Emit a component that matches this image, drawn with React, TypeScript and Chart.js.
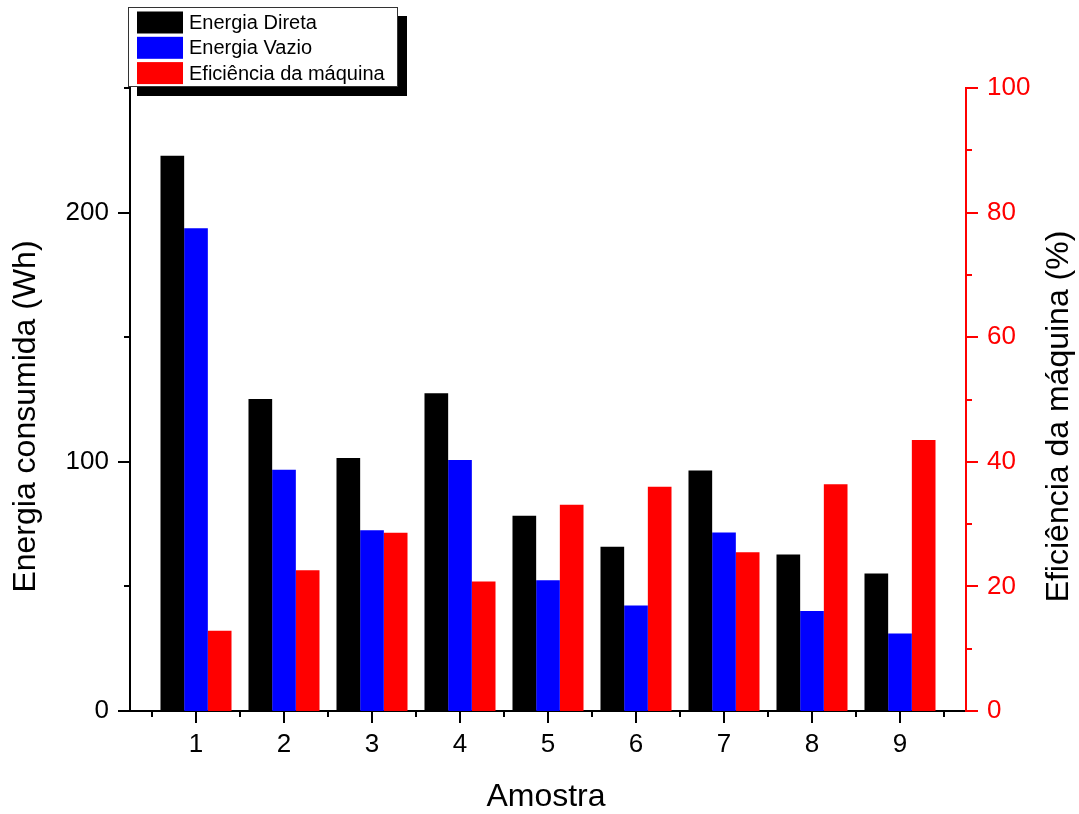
import React, { useEffect, useRef } from "react";
import { Chart, registerables } from "chart.js";

Chart.register(...registerables);

const categories = ["1", "2", "3", "4", "5", "6", "7", "8", "9"];
const energiaDireta = [222.8, 125.2, 101.5, 127.5, 78.4, 65.9, 96.5, 62.8, 55.2];
const energiaVazio = [193.7, 96.8, 72.5, 100.7, 52.5, 42.3, 71.6, 40.1, 31.1];
const eficiencia = [12.9, 22.6, 28.6, 20.8, 33.1, 36.0, 25.5, 36.4, 43.5];

const leftTicks = [0, 100, 200];
const leftMinor = [50, 150, 250];
const rightTicks = [0, 20, 40, 60, 80, 100];
const rightMinor = [10, 30, 50, 70, 90];

const seriesNames = ["Energia Direta", "Energia Vazio", "Eficiência da máquina"];
const seriesColors = ["#000000", "#0000ff", "#ff0000"];

const xTitle = "Amostra";
const yTitle = "Energia consumida (Wh)";
const y2Title = "Eficiência da máquina (%)";

const FONT = "'Liberation Sans', Arial, sans-serif";

const originPlugin = {
  id: "originDecor",
  afterDraw(chart: any) {
    const { ctx, chartArea, scales } = chart;
    const x = scales.x, y = scales.y, y2 = scales.y2;
    ctx.save();
    ctx.lineWidth = 2;
    const line = (x1: number, y1: number, x2: number, y2p: number) => {
      ctx.beginPath();
      ctx.moveTo(x1, y1);
      ctx.lineTo(x2, y2p);
      ctx.stroke();
    };
    const MAJ = 12, MIN = 6;
    // x ticks
    ctx.strokeStyle = "#000";
    const xb = chartArea.bottom;
    categories.forEach((_, i) => {
      const px = Math.round(x.getPixelForValue(i + 1));
      line(px, xb, px, xb + MAJ);
    });
    for (let i = 0; i <= categories.length; i++) {
      const px = Math.round(x.getPixelForValue(i + 0.5));
      line(px, xb, px, xb + MIN);
    }
    // left ticks
    const yl = chartArea.left;
    leftTicks.forEach((v) => {
      const py = Math.round(y.getPixelForValue(v));
      line(yl, py, yl - MAJ, py);
    });
    leftMinor.forEach((v) => {
      const py = Math.round(y.getPixelForValue(v));
      line(yl, py, yl - MIN, py);
    });
    // right ticks
    ctx.strokeStyle = "#ff0000";
    const yr = chartArea.right;
    rightTicks.forEach((v) => {
      const py = Math.round(y2.getPixelForValue(v));
      line(yr, py, yr + MAJ, py);
    });
    rightMinor.forEach((v) => {
      const py = Math.round(y2.getPixelForValue(v));
      line(yr, py, yr + MIN, py);
    });

    // titles
    const midY = (chartArea.top + chartArea.bottom) / 2 + 17;
    ctx.fillStyle = "#000";
    ctx.font = `32px ${FONT}`;
    ctx.textAlign = "center";
    ctx.textBaseline = "alphabetic";
    ctx.fillText(xTitle, (chartArea.left + chartArea.right) / 2 - 2, 806);
    ctx.save();
    ctx.translate(35, midY);
    ctx.rotate(-Math.PI / 2);
    ctx.fillText(yTitle, 0, 0);
    ctx.restore();
    ctx.save();
    ctx.translate(1068, midY);
    ctx.rotate(-Math.PI / 2);
    ctx.fillText(y2Title, 0, 0);
    ctx.restore();

    // legend
    const L = chartArea.left - 2, T = 7, W = 270, H = 80, sh = 9;
    ctx.fillStyle = "#000";
    ctx.fillRect(L + sh, T + sh, W, H);
    ctx.fillStyle = "#fff";
    ctx.fillRect(L, T, W, H);
    ctx.strokeStyle = "#333";
    ctx.lineWidth = 1;
    ctx.strokeRect(L + 0.5, T + 0.5, W - 1, H - 1);
    ctx.font = `20px ${FONT}`;
    ctx.textAlign = "left";
    ctx.textBaseline = "middle";
    chart.data.datasets.forEach((ds: any, i: number) => {
      const cy = T + 15.5 + i * 25.3;
      ctx.fillStyle = ds.backgroundColor;
      ctx.fillRect(L + 9, cy - 11, 46, 22);
      ctx.fillStyle = "#000";
      ctx.fillText(ds.label, L + 61, cy + 1);
    });
    ctx.restore();
  },
};

export default function App() {
  const ref = useRef<HTMLCanvasElement>(null);
  useEffect(() => {
    document.body.style.margin = "0";
    const canvas = ref.current!;
    const toXY = (arr: number[]) => arr.map((v, i) => ({ x: i + 1, y: v }));
    const chart = new Chart(canvas, {
      type: "bar",
      data: {
        datasets: [
          { label: seriesNames[0], data: toXY(energiaDireta), backgroundColor: seriesColors[0], yAxisID: "y" },
          { label: seriesNames[1], data: toXY(energiaVazio), backgroundColor: seriesColors[1], yAxisID: "y" },
          { label: seriesNames[2], data: toXY(eficiencia), backgroundColor: seriesColors[2], yAxisID: "y2" },
        ],
      },
      options: {
        animation: false,
        responsive: false,
        devicePixelRatio: 1,
        layout: { padding: { left: 0, right: 0, top: 88, bottom: 0 } },
        datasets: { bar: { categoryPercentage: 0.807, barPercentage: 1, borderWidth: 0 } },
        plugins: { legend: { display: false }, tooltip: { enabled: false }, title: { display: false } },
        scales: {
          x: {
            type: "linear",
            min: 0.25,
            max: 9.75,
            offset: false,
            grid: { display: false, drawTicks: false, offset: false },
            border: { display: true, color: "#000", width: 2 },
            afterBuildTicks: (s: any) => {
              s.ticks = categories.map((_, i) => ({ value: i + 1 }));
            },
            afterFit: (s: any) => {
              s.height = 103;
            },
            ticks: {
              padding: 18,
              color: "#000",
              font: { family: FONT, size: 26 },
              callback: (_v: any, i: number) => categories[i],
            },
          },
          y: {
            type: "linear",
            position: "left",
            min: 0,
            max: 250,
            grid: { display: false, drawTicks: false },
            border: { display: true, color: "#000", width: 2 },
            afterBuildTicks: (s: any) => {
              s.ticks = leftTicks.map((v) => ({ value: v }));
            },
            afterFit: (s: any) => {
              s.width = 130;
            },
            ticks: { padding: 21, color: "#000", font: { family: FONT, size: 26 } },
          },
          y2: {
            type: "linear",
            position: "right",
            min: 0,
            max: 100,
            grid: { display: false, drawTicks: false },
            border: { display: true, color: "#ff0000", width: 2 },
            afterBuildTicks: (s: any) => {
              s.ticks = rightTicks.map((v) => ({ value: v }));
            },
            afterFit: (s: any) => {
              s.width = 113;
            },
            ticks: { padding: 21, color: "#ff0000", font: { family: FONT, size: 26 } },
          },
        },
      },
      plugins: [originPlugin],
    } as any);
    return () => chart.destroy();
  }, []);
  return (
    <div style={{ position: "absolute", left: 0, top: 0, width: 1079, height: 814, background: "#fff" }}>
      <canvas ref={ref} width={1079} height={814} style={{ display: "block" }} />
    </div>
  );
}
